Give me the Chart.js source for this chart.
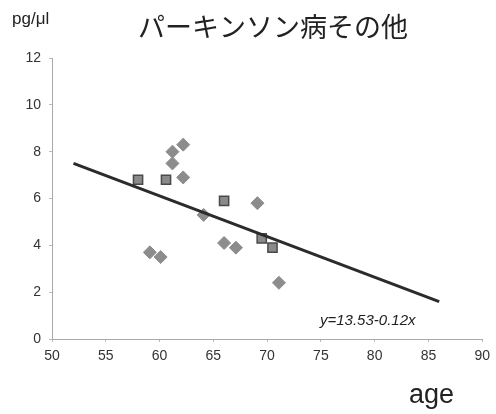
<!DOCTYPE html>
<html>
<head>
<meta charset="utf-8">
<script src="https://cdn.jsdelivr.net/npm/chart.js@4.4.1/dist/chart.umd.min.js"></script>
<style>
  html, body { margin: 0; padding: 0; background: #fff; }
  #wrap { width: 496px; height: 414px; position: relative; }
</style>
</head>
<body>
<div id="wrap"><canvas id="myChart" width="496" height="414"></canvas></div>
<script>
// squares (one group)
const squareAges = [58, 60.6, 66, 69.5, 70.5];
const squareValues = [6.8, 6.8, 5.9, 4.3, 3.9];
// diamonds (other group)
const diamondAges = [62.2, 61.2, 61.2, 62.2, 64.1, 69.1, 66, 67.1, 59.1, 60.1, 71.1];
const diamondValues = [8.3, 8.0, 7.5, 6.9, 5.3, 5.8, 4.1, 3.9, 3.7, 3.5, 2.4];
// trend line as drawn
const lineAges = [52, 86];
const lineValues = [7.5, 1.6];

const xTicks = [50, 55, 60, 65, 70, 75, 80, 85, 90];
const yTicks = [0, 2, 4, 6, 8, 10, 12];

const toPoints = (xs, ys) => xs.map((x, i) => ({ x: x, y: ys[i] }));

const textPlugin = {
  id: "texts",
  afterDraw(chart) {
    const ctx = chart.ctx;
    ctx.save();
    ctx.fillStyle = "#222";
    ctx.textBaseline = "middle";
    ctx.font = '27px "Noto Sans CJK JP"';
    ctx.textAlign = "center";
    ctx.fillText("パーキンソン病その他", 273, 27);
    ctx.font = '17px "Liberation Sans"';
    ctx.textAlign = "left";
    ctx.fillText("pg/μl", 12, 19);
    ctx.font = '27px "Liberation Sans"';
    ctx.fillText("age", 409, 396);
    ctx.font = 'italic 15px "Liberation Sans"';
    ctx.fillText("y=13.53-0.12x", 320, 321);
    ctx.restore();
  },
};

new Chart(document.getElementById("myChart"), {
  type: "scatter",
  data: {
    datasets: [
      {
        type: "line",
        data: toPoints(lineAges, lineValues),
        borderColor: "#2b2b2b",
        borderWidth: 3,
        pointRadius: 0,
        fill: false,
        order: 0,
      },
      {
        data: toPoints(diamondAges, diamondValues),
        pointStyle: "rectRot",
        pointRadius: 6.5,
        backgroundColor: "#8c8c8c",
        borderColor: "#8c8c8c",
        borderWidth: 1,
        order: 1,
      },
      {
        data: toPoints(squareAges, squareValues),
        pointStyle: "rect",
        pointRadius: 6.5,
        backgroundColor: "#8a8a8a",
        borderColor: "#4a4a4a",
        borderWidth: 1.5,
        order: 1,
      },
    ],
  },
  options: {
    responsive: false,
    animation: false,
    layout: { padding: { left: 0, right: 12, top: 58, bottom: 45 } },
    plugins: { legend: { display: false }, tooltip: { enabled: false } },
    scales: {
      x: {
        type: "linear",
        min: 50,
        max: 90,
        afterBuildTicks(scale) { scale.ticks = xTicks.map(v => ({ value: v })); },
        afterFit(scale) { scale.height = 30; },
        grid: { drawOnChartArea: false, tickLength: 3, color: "#bbb" },
        border: { color: "#aaa", width: 1 },
        ticks: { color: "#333", font: { family: "Liberation Sans", size: 14 }, padding: 6, maxRotation: 0 },
      },
      y: {
        min: 0,
        max: 12,
        afterBuildTicks(scale) { scale.ticks = yTicks.map(v => ({ value: v })); },
        afterFit(scale) { scale.width = 52; },
        grid: { drawOnChartArea: false, tickLength: 3, color: "#bbb" },
        border: { color: "#aaa", width: 1 },
        ticks: { color: "#333", font: { family: "Liberation Sans", size: 14 }, padding: 8 },
      },
    },
  },
  plugins: [textPlugin],
});
</script>
</body>
</html>
